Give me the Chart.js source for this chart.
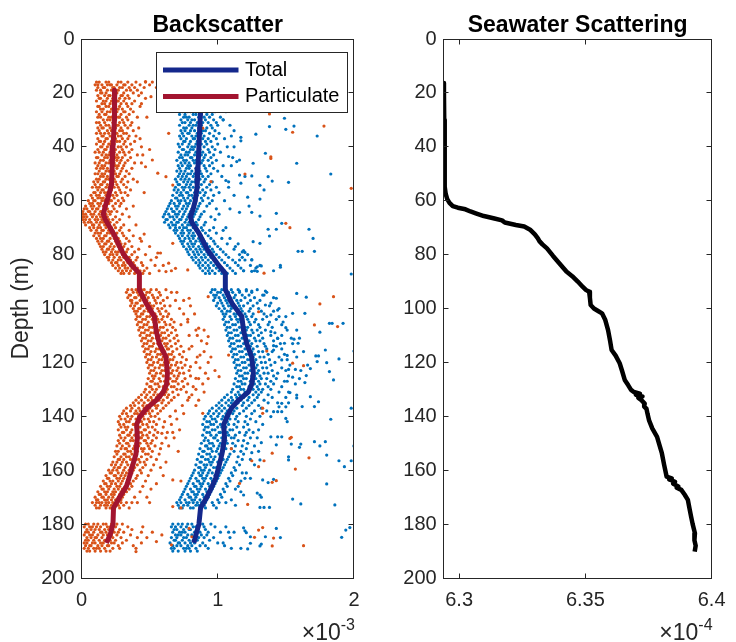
<!DOCTYPE html>
<html>
<head>
<meta charset="utf-8">
<script src="https://cdn.jsdelivr.net/npm/chart.js@4.4.1/dist/chart.umd.min.js"></script>
<style>
html, body { margin: 0; padding: 0; background: #fff; }
#wrap { position: relative; width: 736px; height: 642px; }
#c1 { position: absolute; left: 0; top: 0; }
#c2 { position: absolute; left: 370px; top: 0; }
</style>
</head>
<body>
<div id="wrap">
<canvas id="c1" width="370" height="642"></canvas>
<canvas id="c2" width="366" height="642"></canvas>
</div>
<script>
'use strict';
// ── ticks ──
const X1_TICKS = [0, 1, 2];                 // backscatter, x10^-3
const Y_TICKS = [0, 20, 40, 60, 80, 100, 120, 140, 160, 180, 200];
const X2_TICKS = [6.3, 6.35, 6.4];          // seawater, x10^-4
const X2_TICK_LABELS = ['6.3', '6.35', '6.4'];

// ── bin means (depth m, value x10^-3) ──
const PART_MEAN_DEPTH = [19, 22, 30, 40, 48, 54, 58, 62, 65, 67, 70, 73, 76, 80, 84, 87, 93, 98, 103, 108, 113, 118, 124, 128, 131, 134, 137, 140, 143, 148, 154, 158, 162, 166, 170, 174, 180, 184, 187];
const PART_MEAN = [0.244, 0.244, 0.24, 0.231, 0.225, 0.22, 0.2, 0.175, 0.16, 0.175, 0.21, 0.244, 0.27, 0.31, 0.37, 0.425, 0.425, 0.474, 0.535, 0.547, 0.571, 0.62, 0.631, 0.625, 0.6, 0.55, 0.48, 0.43, 0.405, 0.41, 0.4, 0.377, 0.355, 0.33, 0.28, 0.235, 0.231, 0.21, 0.183];
const TOTAL_MEAN_DEPTH = [19, 27, 35, 40, 48, 55, 60, 63, 66, 68, 72, 78, 84, 87, 93, 98, 103, 108, 113, 118, 124, 128, 131, 134, 137, 140, 143, 148, 154, 159, 163, 166, 170, 174, 180, 184, 187];
const TOTAL_MEAN = [0.88, 0.874, 0.866, 0.862, 0.855, 0.849, 0.835, 0.82, 0.8, 0.81, 0.862, 0.922, 1.007, 1.056, 1.056, 1.104, 1.177, 1.189, 1.213, 1.249, 1.262, 1.25, 1.225, 1.153, 1.1, 1.07, 1.044, 1.05, 1.031, 1.007, 0.985, 0.959, 0.92, 0.874, 0.862, 0.84, 0.825];

// ── seawater profile (depth m, value x10^-4) ──
const SW_DEPTH = [16.3, 20, 30, 40, 50, 54.8, 57.5, 59.4, 60.8, 62.0, 62.6, 63.2, 64.0, 64.7, 65.7, 66.5, 67.3, 68.1, 69.0, 69.6, 70.9, 72.5, 74.0, 75.0, 76.2, 77.7, 80.5, 83.0, 86.3, 88.0, 90.0, 92.0, 93.1, 93.8, 96.0, 98.7, 100.0, 101.0, 101.8, 104.3, 108.0, 112.0, 115.4, 117.5, 120.3, 123.0, 126.5, 128.5, 130.2, 131.0, 131.6, 132.0, 132.6, 133.2, 134.0, 135.3, 136.4, 137.2, 139.0, 141.4, 144.5, 147.6, 150.5, 153.7, 158.0, 162.4, 163.0, 163.4, 164.3, 165.0, 166.0, 166.5, 167.3, 169.0, 171.0, 174.0, 177.3, 180.0, 183.4, 186.0, 188.0, 190.2];
const SW_VALUE = [6.2940, 6.2940, 6.2941, 6.2942, 6.2943, 6.2944, 6.2947, 6.2953, 6.2962, 6.2975, 6.2995, 6.3025, 6.3045, 6.3066, 6.3098, 6.3136, 6.3170, 6.3181, 6.3225, 6.3258, 6.3283, 6.3300, 6.3312, 6.3318, 6.3330, 6.3348, 6.3372, 6.3395, 6.3425, 6.3448, 6.3470, 6.3490, 6.3502, 6.3515, 6.3518, 6.3521, 6.3534, 6.3552, 6.3566, 6.3579, 6.3590, 6.3598, 6.3604, 6.3620, 6.3636, 6.3645, 6.3656, 6.3670, 6.3681, 6.3692, 6.3716, 6.3700, 6.3726, 6.3710, 6.3722, 6.3735, 6.3733, 6.3742, 6.3746, 6.3752, 6.3765, 6.3784, 6.3793, 6.3803, 6.3812, 6.3822, 6.3842, 6.3832, 6.3855, 6.3848, 6.3868, 6.3862, 6.3880, 6.3893, 6.3906, 6.3912, 6.3919, 6.3925, 6.3934, 6.3932, 6.3937, 6.3933];

// ── particulate samples: [depth, x in 1e-5 ...] ──
const PART_ROWS = [
  [16, 11, 13, 18, 20, 27, 29, 34, 40, 47, 52], [17, 10, 12, 15, 19, 21, 22, 26, 31, 32, 37, 43, 50], [18, 12, 16, 17, 23, 24, 28, 30, 35, 39, 46],
  [19, 11, 14, 19, 22, 25, 27, 33, 36, 41], [20, 14, 15, 18, 24, 26, 31, 38, 44], [21, 12, 17, 20, 21, 25, 29, 30, 34, 42],
  [22, 13, 14, 19, 23, 28, 32, 35, 47], [23, 11, 16, 18, 22, 26, 27, 31, 39], [24, 15, 17, 21, 24, 29, 33, 37],
  [25, 12, 13, 18, 20, 25, 28, 34, 43], [26, 14, 16, 22, 23, 27, 30, 36], [27, 11, 15, 19, 21, 26, 31, 32, 38],
  [28, 13, 17, 18, 24, 25, 29, 35], [29, 12, 14, 20, 22, 27, 28, 33, 41], [30, 16, 19, 21, 25, 30, 34],
  [31, 11, 13, 17, 23, 24, 28, 31, 37], [32, 14, 18, 20, 26, 27, 32, 36], [33, 12, 15, 16, 21, 25, 29, 34, 42],
  [34, 13, 19, 22, 23, 28, 30, 38], [35, 11, 14, 17, 20, 26, 31, 33], [36, 15, 16, 21, 24, 27, 29, 35, 40],
  [37, 12, 18, 19, 23, 25, 30, 34], [38, 13, 14, 17, 22, 26, 28, 32, 39], [39, 11, 16, 20, 21, 24, 31, 36],
  [40, 14, 15, 19, 23, 27, 29, 33, 44], [41, 12, 17, 18, 22, 25, 30, 37], [42, 10, 13, 16, 21, 24, 28, 31, 35],
  [43, 15, 18, 20, 23, 26, 32, 41], [44, 11, 12, 17, 19, 25, 27, 30, 36], [45, 14, 16, 21, 22, 26, 29, 34],
  [46, 10, 13, 18, 20, 24, 28, 32, 39], [47, 12, 15, 17, 23, 25, 27, 31], [48, 11, 14, 16, 19, 22, 26, 30, 37],
  [49, 13, 18, 20, 21, 24, 29, 33], [50, 10, 12, 15, 17, 23, 25, 28, 35], [51, 14, 16, 19, 22, 26, 27, 32],
  [52, 11, 13, 18, 20, 21, 24, 30, 38], [53, 9, 12, 16, 17, 22, 25, 29, 34], [54, 10, 14, 15, 19, 23, 26, 31],
  [55, 8, 11, 13, 18, 20, 24, 27, 33], [56, 12, 15, 16, 21, 22, 28, 36], [57, 9, 10, 14, 17, 19, 25, 29, 32],
  [58, 7, 11, 13, 18, 21, 23, 26, 34], [59, 8, 12, 14, 16, 20, 24, 30], [60, 5, 9, 10, 15, 17, 21, 22, 27, 31],
  [61, 6, 8, 12, 14, 19, 20, 25, 29], [62, 3, 7, 9, 13, 16, 18, 23, 28], [63, 2, 4, 8, 11, 12, 17, 19, 24, 33],
  [64, 1, 5, 6, 10, 14, 15, 20, 22, 26], [65, 1, 3, 7, 9, 13, 16, 18, 21, 30], [66, 1, 2, 4, 8, 11, 14, 17, 19, 25],
  [67, 1, 3, 6, 10, 12, 15, 20, 23, 28], [68, 2, 5, 7, 11, 14, 16, 21, 26], [69, 3, 8, 9, 13, 17, 19, 24, 31],
  [70, 6, 9, 12, 14, 18, 22, 25, 29], [71, 7, 11, 15, 16, 20, 23, 28, 35], [72, 10, 12, 14, 19, 21, 26, 30],
  [73, 9, 13, 17, 18, 23, 25, 31, 38], [74, 11, 14, 16, 21, 24, 27, 33], [75, 12, 15, 19, 20, 25, 28, 35, 44],
  [76, 13, 17, 18, 22, 26, 29, 32], [77, 14, 16, 21, 24, 27, 31, 37], [78, 15, 19, 20, 23, 28, 30, 34, 42],
  [79, 16, 18, 22, 25, 27, 33, 39], [80, 17, 21, 23, 26, 30, 32, 37, 47], [81, 19, 20, 24, 28, 31, 35, 41],
  [82, 20, 23, 27, 29, 33, 36, 40, 51], [83, 22, 25, 26, 31, 34, 38, 44], [84, 23, 27, 30, 32, 36, 39, 45, 54],
  [85, 25, 28, 32, 34, 37, 41, 48], [86, 27, 30, 33, 36, 40, 43, 46, 57], [87, 29, 31, 35, 39, 42, 45, 50],
  [93, 34, 37, 40, 44, 46, 51, 55, 62], [94, 33, 38, 41, 43, 48, 50, 57, 66], [95, 35, 36, 42, 45, 47, 52, 58],
  [96, 34, 39, 40, 44, 49, 53, 56, 63], [97, 36, 37, 43, 46, 48, 54, 60, 69], [98, 37, 40, 41, 47, 50, 55, 58],
  [99, 36, 39, 44, 45, 51, 53, 61, 65], [100, 38, 42, 43, 48, 52, 56, 59, 72], [101, 39, 41, 46, 49, 50, 57, 62],
  [102, 40, 44, 45, 51, 54, 58, 64, 75], [103, 41, 43, 48, 50, 55, 60, 63], [104, 40, 45, 47, 52, 56, 59, 66, 78],
  [105, 42, 44, 49, 53, 57, 61, 68], [106, 41, 46, 48, 54, 55, 62, 65, 73], [107, 43, 45, 50, 52, 58, 60, 67],
  [108, 42, 47, 49, 55, 57, 63, 69, 84], [109, 44, 46, 51, 53, 59, 61, 66], [110, 43, 48, 50, 56, 58, 64, 70, 79],
  [111, 45, 47, 52, 55, 60, 62, 68], [112, 44, 49, 51, 57, 59, 65, 71, 88], [113, 46, 48, 53, 56, 61, 63, 69],
  [114, 45, 50, 52, 58, 62, 66, 73, 81], [115, 47, 49, 55, 57, 63, 64, 70], [116, 46, 51, 54, 59, 61, 67, 75, 90],
  [117, 48, 50, 56, 58, 64, 66, 72], [118, 47, 52, 55, 60, 63, 68, 74, 85], [119, 49, 51, 57, 59, 65, 67, 77],
  [120, 48, 53, 56, 61, 64, 70, 73, 93], [121, 50, 52, 58, 60, 66, 69, 76], [122, 49, 54, 57, 62, 65, 71, 74, 87],
  [123, 51, 53, 59, 61, 67, 70, 79], [124, 50, 55, 58, 63, 66, 72, 75, 91], [125, 52, 54, 60, 62, 68, 71, 80],
  [126, 49, 53, 57, 63, 65, 70, 76, 86], [127, 51, 52, 58, 61, 67, 69, 74], [128, 48, 54, 56, 62, 64, 71, 78, 89],
  [129, 50, 51, 57, 60, 66, 68, 75], [130, 47, 52, 55, 61, 63, 70, 73, 84], [131, 46, 50, 54, 59, 62, 67, 77],
  [132, 44, 48, 53, 56, 61, 64, 71, 81], [133, 42, 47, 51, 55, 58, 63, 68], [134, 40, 44, 49, 52, 57, 60, 66, 78],
  [135, 38, 42, 46, 51, 53, 59, 64], [136, 36, 39, 45, 48, 54, 56, 62, 74], [137, 33, 37, 42, 46, 50, 55, 60],
  [138, 31, 36, 40, 43, 49, 52, 58, 69], [139, 30, 33, 39, 41, 47, 50, 56], [140, 28, 34, 37, 42, 45, 51, 54, 65],
  [141, 29, 32, 36, 40, 46, 49, 57], [142, 27, 33, 35, 41, 44, 50, 53, 61], [143, 28, 31, 38, 39, 45, 48, 55],
  [144, 29, 32, 34, 40, 43, 49, 52, 60], [145, 27, 33, 37, 41, 46, 47, 54], [146, 30, 31, 36, 42, 44, 50, 56, 63],
  [147, 28, 34, 35, 39, 45, 48, 53], [148, 29, 32, 37, 43, 44, 49, 55, 62], [149, 27, 31, 36, 38, 46, 47, 52],
  [150, 28, 33, 34, 40, 43, 48, 51, 59], [151, 26, 30, 35, 39, 42, 49, 54], [152, 29, 32, 33, 38, 44, 46, 50, 58],
  [153, 25, 27, 34, 36, 41, 45, 52], [154, 26, 31, 32, 37, 40, 47, 49, 57], [155, 24, 29, 33, 35, 39, 44, 51],
  [156, 27, 28, 31, 36, 40, 42, 48, 55], [157, 23, 26, 30, 33, 38, 43, 46], [158, 22, 25, 29, 34, 37, 41, 47, 53],
  [159, 24, 27, 28, 32, 36, 39, 45], [160, 20, 23, 26, 31, 35, 38, 43, 51], [161, 21, 22, 27, 30, 33, 37, 44],
  [162, 18, 24, 25, 29, 32, 36, 41, 49], [163, 19, 20, 26, 28, 31, 35, 40], [164, 16, 21, 23, 27, 30, 34, 38, 47],
  [165, 17, 18, 22, 25, 29, 33, 36], [166, 14, 19, 21, 26, 28, 32, 37, 45], [167, 15, 16, 20, 24, 27, 30, 35],
  [168, 12, 17, 19, 23, 25, 29, 33, 43], [169, 13, 14, 18, 22, 24, 28, 31], [170, 10, 15, 16, 20, 23, 27, 30, 39],
  [171, 11, 12, 17, 19, 22, 25, 29], [172, 8, 11, 13, 15, 18, 20, 23, 26, 29, 33, 37, 41], [173, 10, 14, 17, 19, 22, 27, 31],
  [174, 11, 13, 18, 21, 24, 28, 35],
  [180, 3, 5, 9, 12, 16, 18, 22, 26, 30], [181, 2, 6, 8, 11, 14, 19, 21, 25, 34], [182, 4, 7, 10, 13, 17, 20, 23, 28, 37],
  [183, 3, 5, 9, 14, 15, 18, 24, 27, 31, 44], [184, 2, 6, 8, 12, 16, 19, 22, 26, 36], [185, 4, 7, 10, 11, 15, 20, 23, 29, 41],
  [186, 3, 5, 9, 13, 17, 18, 21, 25, 33], [187, 2, 4, 8, 10, 14, 16, 22, 24, 30], [188, 3, 6, 7, 12, 15, 19, 20, 27, 38],
  [189, 2, 5, 9, 11, 13, 17, 23, 28], [190, 4, 6, 10, 14, 18, 21]
];
// loose points between the core and the far outliers: [depth, x in 1e-5]
const PART_SPARSE = [
  [18, 55], [24, 44], [29, 48], [37, 43], [41, 50], [46, 44], [53, 41], [57, 46], [62, 38], [66, 35],
  [69, 40], [74, 43], [77, 50], [81, 55], [84, 60], [86, 66], [94, 70], [97, 75], [99, 80], [102, 83],
  [105, 78], [108, 90], [110, 85], [113, 92], [115, 79], [118, 95], [120, 84], [123, 98], [126, 93], [129, 82],
  [131, 90], [133, 79], [136, 84], [139, 75], [141, 70], [143, 66], [145, 72], [148, 68], [151, 64], [153, 71],
  [157, 62], [159, 58], [162, 60], [165, 55], [167, 51], [170, 48], [172, 50], [181, 45], [183, 52], [185, 48],
  [187, 44], [189, 40]
];
const PART_OUTLIERS = [
  [15.8, 47], [21.4, 51], [35, 64], [43, 45], [44.9, 52], [49.8, 56], [51.1, 62], [54.2, 67], [47.4, 47], [33.1, 89],
  [52.9, 95], [27.8, 138], [32.3, 178], [34.6, 155], [44.3, 139], [50.1, 120], [55.4, 198], [43.7, 139], [68.4, 150], [70, 153],
  [72.4, 46], [75.8, 67], [79.4, 56], [79.4, 58], [83.2, 64], [85.1, 69], [86.3, 62], [85.7, 78], [86.9, 134], [95.6, 93],
  [96.2, 79], [95.6, 185], [98.3, 175], [101.2, 130], [106.1, 171], [106.7, 188], [107.3, 86], [110.4, 93], [115.8, 136], [117.3, 87],
  [117.3, 108], [120.3, 155], [121.2, 163], [121.6, 80], [125.9, 84], [125.3, 101], [134, 86], [137, 133], [138.9, 133], [138.9, 89],
  [146.3, 59], [146, 67], [147.8, 154], [148.2, 153], [152, 110], [153.7, 140], [155.4, 167], [156.5, 134], [156.5, 125], [158.7, 130],
  [159.6, 157], [163.6, 67], [164, 73], [164.5, 140], [163.9, 143], [164.9, 116], [172.7, 122], [173.5, 67], [174, 73], [181.6, 79],
  [182.2, 130], [181.3, 133], [184.7, 81], [184, 59], [184.9, 127], [185.2, 141], [186.5, 55], [187.7, 66], [188.1, 140], [188, 163],
  [190.2, 40]
];

// ── total samples: [depth, x in 1e-5 ...] ──
const TOTAL_ROWS = [
  [16, 75, 79, 82, 87, 89, 94, 101], [17, 73, 77, 80, 84, 88, 91, 96, 104], [18, 76, 78, 83, 86, 90, 93, 99],
  [19, 74, 80, 81, 85, 89, 95, 97, 108], [20, 75, 77, 82, 88, 91, 94, 100], [21, 73, 79, 84, 86, 90, 92, 98],
  [22, 76, 78, 81, 87, 89, 96, 103], [23, 74, 77, 83, 85, 92, 94, 99], [24, 75, 80, 82, 86, 88, 93, 101],
  [25, 73, 76, 81, 84, 90, 91, 97, 110], [26, 77, 79, 83, 87, 89, 95, 100], [27, 74, 78, 80, 85, 91, 93, 98, 106],
  [28, 72, 76, 82, 84, 88, 92, 96], [29, 75, 77, 79, 86, 90, 94, 102], [30, 73, 78, 81, 83, 87, 91, 97, 104],
  [31, 74, 76, 80, 85, 89, 93, 99], [32, 72, 79, 82, 84, 88, 95, 100, 109], [33, 75, 77, 81, 86, 87, 92, 96],
  [34, 73, 76, 80, 83, 89, 91, 98, 112], [35, 74, 78, 79, 85, 88, 94, 101], [36, 72, 75, 81, 84, 86, 90, 97],
  [37, 73, 77, 82, 83, 89, 93, 99, 105], [38, 75, 76, 80, 85, 87, 91, 95], [39, 71, 74, 79, 84, 88, 92, 100],
  [40, 72, 78, 81, 83, 86, 90, 96, 107], [41, 74, 75, 80, 82, 87, 93, 98], [42, 71, 77, 79, 84, 85, 89, 94, 102],
  [43, 73, 76, 78, 83, 88, 91, 97], [44, 72, 74, 80, 81, 86, 90, 95, 111], [45, 70, 75, 77, 82, 84, 89, 93, 99],
  [46, 73, 76, 79, 83, 87, 88, 96], [47, 71, 74, 78, 80, 85, 90, 94, 104], [48, 72, 77, 79, 84, 86, 91, 97],
  [49, 70, 73, 76, 81, 85, 87, 92, 100], [50, 72, 75, 78, 80, 83, 88, 95], [51, 71, 74, 77, 82, 86, 89, 93, 103],
  [52, 69, 73, 76, 79, 84, 87, 91], [53, 70, 75, 78, 81, 83, 90, 96, 108], [54, 71, 72, 77, 80, 85, 88, 94],
  [55, 69, 74, 76, 79, 82, 86, 92, 99], [56, 68, 71, 75, 80, 84, 89, 95], [57, 70, 73, 77, 78, 83, 87, 91, 101],
  [58, 67, 72, 74, 79, 81, 85, 90, 97], [59, 69, 70, 75, 78, 82, 88, 93], [60, 66, 71, 73, 76, 80, 84, 89, 96],
  [61, 65, 68, 72, 77, 79, 83, 87, 94], [62, 64, 69, 71, 75, 78, 82, 86, 92], [63, 63, 66, 70, 74, 77, 81, 85, 99],
  [64, 62, 67, 68, 72, 76, 80, 84, 90], [65, 61, 64, 69, 71, 75, 79, 83, 88], [66, 60, 65, 67, 70, 74, 78, 82, 87, 95],
  [67, 62, 63, 68, 72, 73, 77, 81, 86], [68, 61, 66, 70, 71, 76, 79, 84, 91], [69, 64, 67, 69, 74, 78, 80, 85, 90],
  [70, 65, 69, 72, 75, 77, 82, 88, 97], [71, 68, 70, 74, 78, 80, 84, 89, 94], [72, 69, 73, 75, 79, 82, 86, 91, 99],
  [73, 71, 74, 78, 81, 83, 88, 93], [74, 72, 76, 79, 82, 86, 89, 95, 103], [75, 73, 75, 80, 84, 87, 90, 97],
  [76, 74, 78, 81, 83, 88, 92, 98, 107], [77, 75, 79, 82, 86, 89, 94, 100], [78, 77, 80, 84, 87, 90, 96, 102, 112],
  [79, 78, 82, 85, 88, 92, 97, 104], [80, 79, 83, 86, 90, 93, 99, 106, 116], [81, 81, 84, 88, 91, 95, 101, 108],
  [82, 82, 86, 89, 93, 97, 103, 111, 120], [83, 84, 87, 91, 95, 99, 105, 113], [84, 86, 89, 93, 97, 101, 107, 115, 124],
  [85, 87, 91, 94, 99, 103, 109, 117], [86, 89, 93, 96, 101, 105, 111, 119], [87, 91, 94, 98, 103, 107, 113],
  [93, 96, 98, 103, 106, 110, 115, 121, 129], [94, 95, 100, 102, 108, 111, 116, 125], [95, 97, 99, 104, 107, 113, 118, 123, 133],
  [96, 98, 101, 105, 109, 112, 120, 127], [97, 97, 102, 106, 108, 114, 117, 124, 131], [98, 100, 103, 107, 111, 115, 122, 129],
  [99, 99, 104, 108, 110, 116, 119, 126, 138], [100, 101, 105, 110, 113, 117, 124, 130], [101, 103, 107, 109, 115, 118, 123, 132, 141],
  [102, 104, 106, 112, 114, 120, 126, 134], [103, 105, 109, 113, 117, 121, 125, 136, 145], [104, 104, 110, 114, 116, 122, 128, 133],
  [105, 106, 108, 115, 118, 123, 127, 138, 148], [106, 105, 111, 113, 119, 124, 130, 137], [107, 107, 109, 116, 120, 122, 131, 140],
  [108, 106, 112, 114, 121, 125, 129, 135, 151], [109, 108, 110, 117, 119, 126, 132, 142], [110, 107, 113, 115, 122, 124, 130, 139],
  [111, 109, 111, 118, 120, 127, 133, 144, 154], [112, 108, 114, 116, 123, 128, 131, 141], [113, 110, 112, 119, 121, 125, 134, 146],
  [114, 109, 115, 117, 124, 129, 135, 143], [115, 111, 113, 120, 122, 126, 136, 147], [116, 110, 116, 118, 125, 130, 133, 140, 156],
  [117, 112, 114, 121, 123, 127, 137, 149], [118, 111, 117, 119, 126, 131, 134, 145], [119, 113, 115, 122, 124, 128, 138, 151],
  [120, 112, 118, 120, 127, 132, 135, 142], [121, 114, 116, 123, 125, 129, 139, 153], [122, 113, 119, 121, 128, 133, 136, 147],
  [123, 115, 117, 124, 126, 130, 140, 150], [124, 114, 120, 122, 129, 134, 137, 144], [125, 116, 118, 125, 127, 131, 141, 152],
  [126, 113, 119, 121, 128, 132, 136, 143], [127, 115, 117, 124, 126, 130, 139, 149], [128, 112, 118, 120, 127, 131, 135, 141],
  [129, 114, 116, 123, 125, 129, 137, 147], [130, 111, 117, 119, 126, 130, 133, 139], [131, 110, 115, 120, 122, 128, 132, 145],
  [132, 107, 113, 116, 121, 126, 130, 137], [133, 105, 110, 114, 119, 123, 129, 140], [134, 103, 108, 111, 117, 122, 127, 134],
  [135, 101, 106, 110, 115, 119, 125, 137], [136, 99, 103, 108, 112, 118, 123, 130], [137, 96, 101, 105, 110, 114, 121, 132],
  [138, 94, 99, 103, 107, 112, 119, 127], [139, 93, 97, 101, 106, 111, 116, 125], [140, 91, 95, 100, 104, 108, 114, 121],
  [141, 90, 96, 98, 103, 109, 113, 124], [142, 92, 94, 99, 105, 107, 115, 120], [143, 89, 95, 97, 102, 108, 112, 122],
  [144, 91, 93, 100, 103, 106, 114, 119], [145, 90, 96, 98, 104, 109, 111, 123], [146, 92, 94, 101, 102, 107, 116, 121],
  [147, 89, 95, 99, 105, 108, 113, 120], [148, 91, 97, 98, 103, 110, 112, 124], [149, 90, 93, 100, 104, 106, 115, 119],
  [150, 88, 94, 96, 102, 107, 111, 122], [151, 91, 92, 97, 101, 105, 113, 118], [152, 87, 93, 95, 100, 106, 110, 121],
  [153, 89, 90, 96, 99, 104, 112, 117], [154, 86, 92, 94, 101, 103, 109, 119], [155, 88, 89, 95, 98, 102, 108, 115],
  [156, 85, 91, 93, 97, 104, 107, 118], [157, 87, 88, 94, 96, 100, 106, 114], [158, 84, 90, 92, 95, 101, 105, 116],
  [159, 86, 87, 91, 97, 99, 104, 112], [160, 83, 88, 90, 94, 100, 103, 113], [161, 82, 86, 89, 93, 96, 102, 110],
  [162, 81, 87, 88, 92, 98, 101, 111], [163, 80, 84, 89, 91, 95, 100, 108], [164, 79, 85, 86, 90, 96, 99, 109],
  [165, 78, 82, 87, 89, 93, 98, 106], [166, 77, 83, 84, 88, 94, 97, 107], [167, 76, 80, 85, 87, 91, 96, 104],
  [168, 75, 81, 82, 86, 92, 95, 105], [169, 74, 78, 83, 85, 89, 94, 102], [170, 73, 79, 80, 84, 90, 93, 103],
  [171, 72, 76, 81, 83, 87, 92, 100], [172, 70, 73, 77, 79, 82, 85, 88, 91, 96, 101, 106], [173, 71, 75, 78, 84, 86, 90, 97],
  [174, 72, 74, 80, 82, 87, 91, 99],
  [180, 67, 71, 74, 78, 81, 86, 89, 95], [181, 66, 69, 73, 77, 82, 84, 90, 98], [182, 68, 70, 75, 79, 80, 85, 91],
  [183, 67, 72, 74, 76, 83, 87, 93, 102], [184, 69, 71, 73, 78, 81, 88, 92], [185, 66, 70, 75, 77, 84, 86, 90, 97],
  [186, 68, 69, 74, 79, 82, 85, 94], [187, 65, 71, 72, 76, 80, 83, 89, 100], [188, 67, 70, 73, 78, 81, 87, 91],
  [189, 66, 68, 75, 77, 79, 84, 93], [190, 67, 71, 76, 80, 85]
];
const TOTAL_SPARSE = [
  [40, 112], [47, 110], [55, 108], [60, 105], [65, 101], [67, 98], [71, 104], [74, 109], [77, 113], [79, 118],
  [82, 125], [84, 131], [86, 127], [94, 136], [96, 141], [98, 139], [100, 145], [103, 150], [106, 147], [108, 158],
  [111, 160], [113, 155], [116, 163], [118, 158], [121, 166], [123, 161], [126, 160], [128, 157], [131, 152], [133, 150],
  [135, 144], [138, 136], [140, 131], [143, 133], [145, 130], [148, 129], [151, 127], [153, 130], [156, 124], [158, 127],
  [161, 118], [163, 124], [166, 115], [168, 117], [171, 110], [173, 113], [181, 106], [183, 112], [185, 109], [187, 104],
  [189, 110]
];
const TOTAL_OUTLIERS = [
  [29.4, 149], [32.5, 138], [32.3, 156], [33.5, 150], [35.3, 128], [36, 173], [36.5, 117], [37.8, 117], [42.4, 135], [44.9, 116],
  [46.1, 126], [46.1, 158], [50.1, 183], [50.5, 116], [50.8, 125], [51, 120], [51.1, 137], [52.7, 140], [53.2, 152], [53.5, 117],
  [54.3, 131], [56, 134], [58.7, 122], [59.4, 131], [62, 123], [64.3, 125], [64.3, 116], [64.7, 143], [65.7, 131], [68.4, 147],
  [70.6, 137], [70.6, 143], [70.6, 167], [73.1, 138], [74, 170], [75.2, 126], [75.8, 131], [78.5, 119], [79.2, 120], [80, 122],
  [78.8, 159], [78.8, 162], [78.8, 171], [81.9, 125], [82, 116], [84.5, 129], [84.2, 132], [84, 146], [84.7, 146], [86, 141],
  [86.2, 125], [86.2, 129], [86, 119], [87.2, 198], [93.5, 116], [93.5, 121], [93.5, 125], [93.5, 135],
  [94.4, 158], [95.8, 165], [96.2, 143], [98.7, 135], [100.6, 144], [101.8, 155], [101.8, 164], [102.4, 139], [105.5, 182], [105.5, 184],
  [105.5, 192], [108.8, 175], [107.1, 150], [108.6, 139], [111.1, 144], [111.4, 156], [112.9, 159], [112.9, 149], [113.8, 141], [115.4, 141],
  [115.4, 179], [115.8, 200], [117.4, 151], [117.6, 172], [117.6, 174], [118.7, 189], [119.1, 147], [119.7, 173], [120.1, 180], [122.3, 168],
  [122.6, 152], [122.6, 157], [123.4, 182], [124.9, 165], [126.5, 185], [125.5, 155], [127.5, 164], [131.2, 153], [132.1, 158], [133.2, 158],
  [132.7, 168], [134.6, 174], [136.4, 171], [136.4, 162], [135.2, 147], [135, 152], [136.5, 150], [136.5, 145], [137, 198], [141.1, 183],
  [142, 151], [140.8, 150], [138.3, 144], [138.3, 147], [138.3, 141], [140.1, 139], [147.6, 144], [147.6, 147], [150.3, 154], [150.3, 161],
  [151.5, 160], [149.4, 171], [149.4, 179], [151, 175], [151, 200], [154.4, 180], [156.5, 189], [156.5, 198], [158.7, 193], [155, 152],
  [156.2, 152], [150.6, 143], [147.6, 139], [149.8, 132], [156.2, 131], [153.5, 125], [163.6, 133], [163.4, 141], [164.6, 137], [163, 120],
  [164, 117], [170.7, 155], [172.5, 161], [165.1, 180], [172.9, 186], [168.5, 129], [170, 132], [169.2, 131], [173.8, 131], [173.8, 134],
  [173.8, 138], [169.2, 119], [181.4, 119], [182.5, 120], [183.2, 121], [181.6, 143], [184.7, 135], [185, 146], [184.7, 124], [187.1, 124],
  [188.1, 131], [187.4, 132], [189, 117], [189.2, 122], [184.9, 191], [182.2, 194], [181.3, 197],
  [36, 110], [43.6, 108], [45.5, 114], [52.5, 106], [30, 104], [58, 112], [63, 109], [70, 106], [76, 115], [81, 118],
  [85, 128], [95, 134], [104, 143], [110, 147], [127, 151], [142, 128], [146, 126], [161, 121], [167, 113], [183, 108], [188, 105]
];

// ── styling ──
const FONT = "'Liberation Sans', Arial, Helvetica, sans-serif";
const AXIS_COLOR = '#262626';
const BLUE_DOT = '#0072bd';
const ORANGE_DOT = '#d95319';
const TOTAL_LINE = '#14288c';
const PART_LINE = '#a2142f';

Chart.defaults.font.family = FONT;
Chart.defaults.color = AXIS_COLOR;

function rowPoints(rows) {
    const pts = [];
    rows.forEach(r => { for (let i = 1; i < r.length; i++) pts.push({ x: r[i] / 100, y: r[0] }); });
    return pts;
}
const pairPoints = pairs => pairs.map(p => ({ x: p[1] / 100, y: p[0] }));
const linePoints = (depths, vals) => depths.map((d, i) => ({ x: vals[i], y: d }));

// MATLAB-like box with inward ticks
const boxTicks = {
    id: 'boxTicks',
    afterDatasetsDraw(chart) {
        const { ctx, chartArea: a, scales } = chart;
        const L = Math.floor(a.left) + 0.5, R = Math.floor(a.right) + 0.5;
        const T = Math.floor(a.top) + 0.5, B = Math.floor(a.bottom) + 0.5;
        ctx.save();
        ctx.strokeStyle = AXIS_COLOR;
        ctx.lineWidth = 1;
        ctx.beginPath();
        scales.x.ticks.forEach(t => {
            const px = Math.floor(scales.x.getPixelForValue(t.value)) + 0.5;
            ctx.moveTo(px, B); ctx.lineTo(px, B - 5);
            ctx.moveTo(px, T); ctx.lineTo(px, T + 5);
        });
        scales.y.ticks.forEach(t => {
            const py = Math.floor(scales.y.getPixelForValue(t.value)) + 0.5;
            ctx.moveTo(L, py); ctx.lineTo(L + 5, py);
            ctx.moveTo(R, py); ctx.lineTo(R - 5, py);
        });
        ctx.stroke();
        ctx.strokeRect(L, T, R - L, B - T);
        ctx.restore();
    }
};

function exponentLabel(exp) {
    return {
        id: 'exponentLabel',
        afterDraw(chart) {
            const { ctx, chartArea: a } = chart;
            ctx.save();
            ctx.fillStyle = AXIS_COLOR;
            ctx.textBaseline = 'alphabetic';
            ctx.font = '16px ' + FONT;
            const wExp = ctx.measureText(exp).width;
            ctx.font = '23px ' + FONT;
            const wBase = ctx.measureText('\u00d710').width;
            const right = a.right + 1;
            ctx.fillText('\u00d710', right - wExp - wBase, 640);
            ctx.font = '16px ' + FONT;
            ctx.fillText(exp, right - wExp, 629.5);
            ctx.restore();
        }
    };
}

const boxLegend = {
    id: 'boxLegend',
    afterDatasetsDraw(chart) {
        const ctx = chart.ctx;
        ctx.save();
        ctx.fillStyle = '#fff';
        ctx.fillRect(156, 52, 191, 61);
        ctx.strokeStyle = AXIS_COLOR;
        ctx.lineWidth = 1;
        ctx.strokeRect(156.5, 52.5, 191, 60);
        const items = [['Total', TOTAL_LINE, 70], ['Particulate', PART_LINE, 96.5]];
        ctx.font = '20px ' + FONT;
        ctx.textBaseline = 'middle';
        items.forEach(([label, color, y]) => {
            ctx.strokeStyle = color;
            ctx.lineWidth = 5;
            ctx.beginPath();
            ctx.moveTo(163, y); ctx.lineTo(238.5, y);
            ctx.stroke();
            ctx.fillStyle = '#000';
            ctx.fillText(label, 245, y);
        });
        ctx.restore();
    }
};

function tickFont() { return { size: 20 }; }

function depthAxis(width, withTitle) {
    return {
        type: 'linear', position: 'left', reverse: true, min: 0, max: 200,
        afterBuildTicks: s => { s.ticks = Y_TICKS.map(v => ({ value: v })); },
        afterFit: s => { s.width = width; },
        grid: { display: false, drawTicks: false },
        border: { display: false },
        ticks: { font: tickFont(), color: AXIS_COLOR, padding: 7, autoSkip: false },
        title: withTitle
            ? { display: true, text: 'Depth (m)', font: { size: 23 }, color: AXIS_COLOR, padding: { top: 8, bottom: 0 } }
            : { display: false }
    };
}

function titleOpts(text) {
    return {
        display: true, text, fullSize: false, color: '#000',
        font: { size: 23, weight: 'bold', lineHeight: 1.1 }, padding: { top: 12.7, bottom: 1 }
    };
}

const scatterStyle = color => ({
    type: 'scatter', showLine: false, backgroundColor: color, borderWidth: 0,
    pointRadius: 1.6, pointHoverRadius: 0
});
const meanStyle = color => ({
    type: 'scatter', showLine: true, borderColor: color, borderWidth: 5, pointRadius: 0,
    pointHoverRadius: 0, tension: 0, borderJoinStyle: 'round', fill: false
});

new Chart(document.getElementById('c1'), {
    type: 'scatter',
    data: {
        datasets: [
            Object.assign(meanStyle(TOTAL_LINE), { label: 'Total', order: 0, data: linePoints(TOTAL_MEAN_DEPTH, TOTAL_MEAN) }),
            Object.assign(meanStyle(PART_LINE), { label: 'Particulate', order: 1, data: linePoints(PART_MEAN_DEPTH, PART_MEAN) }),
            Object.assign(scatterStyle(ORANGE_DOT), { label: 'bbp', order: 2,
                data: rowPoints(PART_ROWS).concat(pairPoints(PART_SPARSE), pairPoints(PART_OUTLIERS)) }),
            Object.assign(scatterStyle(BLUE_DOT), { label: 'bb', order: 3,
                data: rowPoints(TOTAL_ROWS).concat(pairPoints(TOTAL_SPARSE), pairPoints(TOTAL_OUTLIERS)) })
        ]
    },
    options: {
        responsive: false, animation: false, events: [],
        layout: { padding: { left: 0, right: 13.5, top: 0, bottom: 0 } },
        plugins: { legend: { display: false }, tooltip: { enabled: false }, title: titleOpts('Backscatter') },
        scales: {
            x: {
                type: 'linear', position: 'bottom', min: 0, max: 2,
                afterBuildTicks: s => { s.ticks = X1_TICKS.map(v => ({ value: v })); },
                afterFit: s => { s.height = 64; },
                grid: { display: false, drawTicks: false },
                border: { display: false },
                ticks: { font: tickFont(), color: AXIS_COLOR, padding: 10.5, maxRotation: 0, autoSkip: false }
            },
            y: depthAxis(81.5, true)
        }
    },
    plugins: [boxTicks, boxLegend, exponentLabel('-3')]
});

new Chart(document.getElementById('c2'), {
    type: 'scatter',
    data: {
        datasets: [
            Object.assign(meanStyle('#000'), { label: 'Seawater', borderWidth: 4.5, data: linePoints(SW_DEPTH, SW_VALUE) })
        ]
    },
    options: {
        responsive: false, animation: false, events: [],
        layout: { padding: { left: 0, right: 16.5, top: 0, bottom: 0 } },
        plugins: { legend: { display: false }, tooltip: { enabled: false }, title: titleOpts('Seawater Scattering') },
        scales: {
            x: {
                type: 'linear', position: 'bottom', min: 6.2939, max: 6.4,
                afterBuildTicks: s => { s.ticks = X2_TICKS.map(v => ({ value: v })); },
                afterFit: s => { s.height = 64; },
                grid: { display: false, drawTicks: false },
                border: { display: false },
                ticks: { font: tickFont(), color: AXIS_COLOR, padding: 10.5, maxRotation: 0, autoSkip: false,
                         callback: (v, i) => X2_TICK_LABELS[i] }
            },
            y: depthAxis(73.7, false)
        }
    },
    plugins: [boxTicks, exponentLabel('-4')]
});
</script>
</body>
</html>
